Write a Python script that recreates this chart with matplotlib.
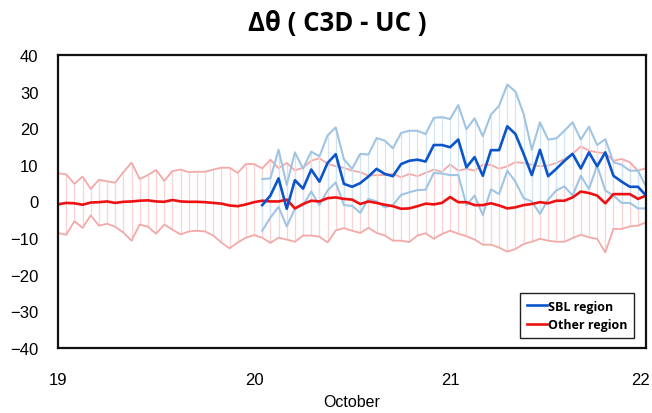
import numpy as np
import matplotlib.pyplot as plt
import matplotlib.transforms as mtransforms

# hourly values, 19 Oct 00h -> 22 Oct 00h
other_mean = [-0.8, -0.4, -0.5, -0.9, -0.3, -0.2, 0.0, -0.4, -0.1, 0.0, 0.2, 0.3,
              0.0, -0.1, 0.4, 0.0, -0.1, -0.1, -0.2, -0.4, -0.6, -1.1, -1.3, -0.8,
              -0.2, 0.2, 0.0, 0.0, 0.5, -1.9, -0.7, 0.2, 0.0, 0.9, 1.1, 0.7,
              0.5, -0.7, 0.0, -0.4, -0.9, -1.3, -2.0, -1.9, -1.3, -0.6, -0.8, -0.4,
              1.2, -0.2, -0.2, -1.0, -1.0, -0.5, -1.1, -1.9, -1.6, -1.0, -0.7, -0.2,
              -0.5, 0.2, 0.2, 1.1, 2.7, 2.3, 1.6, -0.5, 2.0, 2.0, 2.0, 0.7, 1.6]
other_upper = [7.7, 7.4, 4.8, 6.8, 3.4, 5.9, 5.5, 5.1, 8.0, 10.6, 6.1, 7.2,
               8.6, 5.6, 8.3, 8.7, 8.0, 8.1, 8.1, 8.7, 9.2, 9.2, 7.8, 10.2,
               10.2, 9.0, 11.4, 9.1, 10.5, 8.5, 9.2, 11.1, 11.8, 10.3, 9.6, 9.2,
               8.4, 8.0, 7.0, 7.2, 7.2, 7.5, 6.6, 7.5, 6.9, 7.8, 8.7, 8.1,
               10.1, 8.4, 8.9, 8.4, 10.0, 10.0, 8.9, 9.6, 10.7, 10.5, 10.0, 9.6,
               9.8, 10.5, 11.6, 13.0, 15.0, 13.9, 13.4, 13.2, 11.1, 11.6, 10.7, 8.4, 9.1]
other_lower = [-8.6, -9.1, -5.4, -7.2, -3.8, -6.6, -6.1, -6.9, -8.5, -10.7, -6.3, -6.9,
               -8.8, -6.3, -7.7, -9.0, -8.2, -8.0, -8.2, -9.3, -11.2, -12.8, -11.2, -9.9,
               -9.2, -9.9, -11.3, -9.9, -10.4, -11.0, -9.3, -9.3, -9.6, -11.2, -7.9, -7.3,
               -8.0, -8.6, -7.2, -8.6, -9.3, -10.7, -10.7, -11.1, -9.3, -8.7, -10.2, -8.9,
               -8.0, -8.8, -9.5, -10.4, -11.8, -11.8, -12.6, -13.7, -13.0, -11.6, -11.0, -10.2,
               -10.7, -11.0, -11.0, -10.0, -9.1, -9.8, -10.2, -13.9, -7.5, -7.5, -6.8, -6.6, -5.7]

# SBL region starts at 20 Oct 01h
sbl_mean = [-1.0, 1.6, 6.3, -2.0, 5.8, 3.5, 8.7, 5.4, 10.5, 12.9, 4.8, 4.0,
            5.0, 6.8, 8.9, 7.5, 6.9, 10.2, 11.1, 11.4, 10.9, 15.4, 15.4, 14.8,
            16.9, 9.3, 12.1, 7.0, 14.0, 14.0, 20.5, 18.4, 13.0, 7.2, 14.1, 6.9,
            8.9, 11.1, 13.0, 9.0, 13.4, 9.6, 13.4, 7.0, 5.4, 4.0, 4.0, 1.6]
sbl_upper = [6.1, 6.3, 14.1, 4.5, 13.4, 9.0, 13.6, 12.3, 18.0, 20.2, 11.5, 8.9,
             13.0, 12.8, 17.3, 16.6, 14.5, 18.7, 19.3, 19.3, 18.4, 22.8, 23.0, 22.5,
             26.3, 19.7, 22.7, 17.8, 23.7, 26.1, 31.9, 30.0, 23.9, 14.1, 21.6, 16.9,
             17.2, 19.3, 21.6, 16.9, 20.4, 15.4, 17.0, 10.7, 10.0, 8.4, 8.4, 4.0]
sbl_lower = [-8.0, -4.4, -1.5, -6.8, -2.0, -1.0, 2.7, -1.0, 3.0, 5.2, -1.0, -1.2,
             -3.1, 0.7, 0.0, -1.6, -1.0, 1.8, 2.5, 3.1, 3.2, 7.8, 7.6, 7.2,
             7.2, -1.0, 1.6, -3.7, 3.3, 2.0, 8.4, 5.4, 0.9, 0.0, -3.4, 0.5,
             3.0, 4.1, 1.6, 7.0, 3.4, 9.8, 3.0, 1.6, -0.4, -0.4, -1.9, -1.9]

sbl_start = 25  # hour index

x_other = 19 + np.arange(len(other_mean)) / 24
x_sbl = 19 + (sbl_start + np.arange(len(sbl_mean))) / 24

fig = plt.figure(figsize=(6.52, 4.14), dpi=100)
ax = fig.add_axes([0.089, 0.157, 0.902, 0.708])

# other region spread
ax.vlines(x_other, other_lower, other_upper, color='#f9d4d4', linewidth=0.9)
ax.plot(x_other, other_upper, color='#f4a9a9', linewidth=1.3)
ax.plot(x_other, other_lower, color='#f4a9a9', linewidth=1.3)

# SBL region spread
ax.vlines(x_sbl, sbl_lower, sbl_upper, color='#d3e4f3', linewidth=0.9)
ax.plot(x_sbl, sbl_upper, color='#a0c5e4', linewidth=1.5)
ax.plot(x_sbl, sbl_lower, color='#a0c5e4', linewidth=1.5)

ax.plot(x_other, other_mean, color='#ee1111', linewidth=1.9, label='Other region')
ax.plot(x_sbl, sbl_mean, color='#0a55cc', linewidth=1.9, label='SBL region')

ax.set_xlim(19, 22)
ax.set_ylim(-40, 40)
ax.set_xticks([19, 20, 21, 22])
ax.set_yticks(np.arange(-40, 41, 10))
ax.tick_params(length=0, labelsize=12)
ax.tick_params(axis='x', pad=17)
ax.tick_params(axis='y', pad=14)
for lab in ax.get_xticklabels() + ax.get_yticklabels():
    lab.set_family('Liberation Sans')
# last date label sits a little left so it stays inside the picture
last = ax.get_xticklabels()[-1]
last.set_transform(last.get_transform() + mtransforms.ScaledTranslation(-6 / 100, 0, fig.dpi_scale_trans))
for s in ax.spines.values():
    s.set_linewidth(1.6)
    s.set_color('#111111')

ax.set_xlabel('October', family='Liberation Sans', fontsize=11.5, labelpad=5)

h, l = ax.get_legend_handles_labels()
leg = ax.legend(h[::-1], l[::-1], loc='lower right', bbox_to_anchor=(0.980, 0.034),
                borderaxespad=0, handlelength=1.6, handletextpad=0.1, borderpad=0.55,
                labelspacing=0.45, fancybox=False, shadow=False, framealpha=1,
                prop={'family': ['Open Sans', 'DejaVu Sans'], 'weight': 'bold', 'size': 9})
leg.get_frame().set_edgecolor('#222222')
leg.get_frame().set_linewidth(1.0)

fig.text(0.518, 0.943, 'Δθ ( C3D - UC )', ha='center', va='center',
         family=['Open Sans', 'DejaVu Sans'], fontweight='bold', fontsize=18.5)

fig.savefig('out.png', dpi=100)
